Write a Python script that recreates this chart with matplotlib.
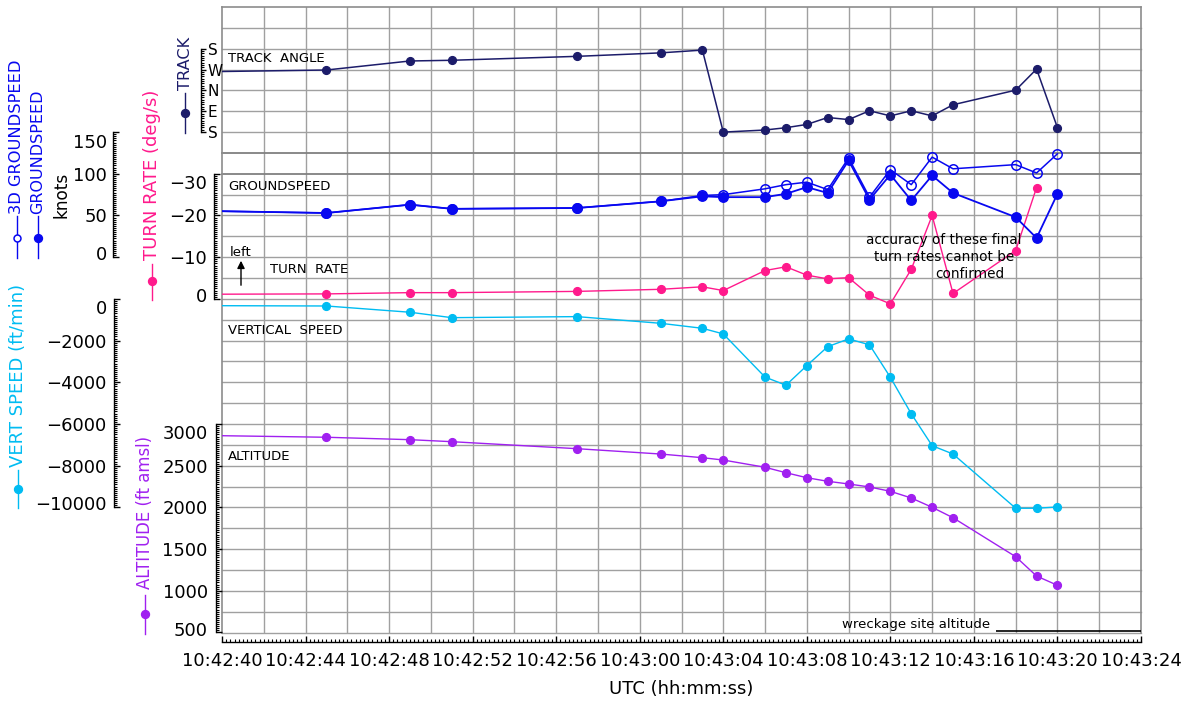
import matplotlib
matplotlib.use("Agg")
import matplotlib.pyplot as plt
from matplotlib.lines import Line2D
from matplotlib.patches import FancyArrowPatch
from matplotlib.ticker import FixedLocator
from matplotlib.transforms import ScaledTranslation
import numpy as np

W, H, DPI = 1189, 702, 100

# ---------------------------------------------------------------- data
start_utc = "10:42:40"
utc = ["10:42:38", "10:42:45", "10:42:49", "10:42:51", "10:42:57", "10:43:01",
       "10:43:03", "10:43:04", "10:43:06", "10:43:07", "10:43:08", "10:43:09",
       "10:43:10", "10:43:11", "10:43:12", "10:43:13", "10:43:14", "10:43:15",
       "10:43:18", "10:43:19", "10:43:20"]

track_deg = [281, 272, 233, 230, 213, 198, 186, 180, 171, 161, 147, 117,
             126, 88, 110, 88, 110, 62, 359, 268, 161]
groundspeed_kt = [56, 53, 63, 58, 59, 67, 73, 72, 72, 76, 84, 77,
                  116, 69, 99, 68, 98, 77, 48, 23, 76]
groundspeed_3d_kt = [56, 53, 63, 58, 59, 67, 74, 75, 82, 87, 90, 81,
                     119, 72, 105, 87, 120, 106, 111, 101, 124]
turn_rate_dps = [-1.1, -1.2, -1.5, -1.5, -1.8, -2.3, -2.9, -2.0, -6.8, -7.7,
                 -5.7, -4.8, -5.1, -0.9, 1.2, -7.1, -20.0, -1.3, -11.6, -26.7]
vert_speed_fpm = [-320, -340, -640, -900, -850, -1170, -1410, -1680, -3750,
                  -4140, -3200, -2290, -1920, -2200, -3760, -5510, -7040,
                  -7440, -10040, -10040, -9980]
altitude_ft = [2867, 2841, 2812, 2788, 2704, 2640, 2596, 2568, 2481, 2416,
               2356, 2313, 2281, 2245, 2193, 2113, 2001, 1876, 1409, 1177, 1066]
wreckage_alt_ft = 520

time_tick_labels = ["10:42:40", "10:42:44", "10:42:48", "10:42:52", "10:42:56",
                    "10:43:00", "10:43:04", "10:43:08", "10:43:12", "10:43:16",
                    "10:43:20", "10:43:24"]

compass_ticks = [-180, -90, 0, 90, 180]
compass_labels = ["S", "W", "N", "E", "S"]
knots_ticks = [0, 50, 100, 150]
turn_ticks = [-30, -20, -10, 0]
vs_ticks = [-10000, -8000, -6000, -4000, -2000, 0]
alt_ticks = [500, 1000, 1500, 2000, 2500, 3000]

# ---------------------------------------------------------------- helpers
def secs(hms):
    h, m, s = (int(v) for v in hms.split(":"))
    return h * 3600 + m * 60 + s

t0 = secs(start_utc)
t = np.array([secs(u) - t0 for u in utc], dtype=float)
time_ticks = np.array([secs(u) - t0 for u in time_tick_labels], dtype=float)

def unwrap_heading(h):
    # headings past south are shown on the upper half of the compass scale
    h = np.asarray(h, dtype=float)
    return np.where(h > 180, h - 360, h)

def fx(px):
    return px / W

def fy(py):
    return 1 - py / H

NAVY = "#1c1c6a"
BLUE = "#0808f0"
PINK = "#ff1a8c"
CYAN = "#00bcf2"
PURPLE = "#a020f0"
GRID = "#a0a0a0"

plt.rcParams["font.family"] = ["DejaVu Sans"]
fig = plt.figure(figsize=(W / DPI, H / DPI), dpi=DPI, facecolor="white")

TOP, BOT, LEFT, RIGHT = 7.0, 632.5, 222.0, 1141.0
ROWS = 30
rect = [fx(LEFT), fy(BOT), (RIGHT - LEFT) / W, (BOT - TOP) / H]
XMAX = 44

# ---------------------------------------------------------------- grid + time axis
ax = fig.add_axes(rect, zorder=0)
ax.set_xlim(0, XMAX)
ax.set_ylim(ROWS, 0)
for x in np.arange(2, XMAX, 2):
    ax.axvline(x, color=GRID, lw=1.0, zorder=0)
for r in range(1, ROWS + 1):
    dark = r in (7, 8)
    ax.axhline(r, color="#808080" if dark else GRID, lw=1.3 if dark else 1.0,
               zorder=0, clip_on=False)
for side in ("top", "left", "right"):
    ax.spines[side].set_color("#8c8c8c")
    ax.spines[side].set_linewidth(1.2)
ax.spines["bottom"].set_position(("outward", 6.5))
ax.spines["bottom"].set_color("black")
ax.spines["bottom"].set_linewidth(1.0)
ax.set_yticks([])
ax.xaxis.set_major_locator(FixedLocator(time_ticks))
ax.set_xticklabels(time_tick_labels)
ax.xaxis.set_minor_locator(FixedLocator(np.arange(0, XMAX + 0.01, 0.2)))
ax.tick_params(axis="x", which="major", direction="in", length=4.5, width=1.0,
               pad=7.5, labelsize=13)
ax.tick_params(axis="x", which="minor", direction="in", length=2.2, width=0.8)
fig.text(fx(681), fy(689), "UTC (hh:mm:ss)", ha="center", va="center", fontsize=13)


def overlay(ylim, z):
    a = fig.add_axes(rect, zorder=z)
    a.set_xlim(0, XMAX)
    a.set_ylim(*ylim)
    a.patch.set_visible(False)
    for s in a.spines.values():
        s.set_visible(False)
    a.xaxis.set_visible(False)
    return a


def left_scale(a, spine_px, bounds, ticks, minor, pad):
    sp = a.spines["left"]
    sp.set_visible(True)
    sp.set_position(("axes", (spine_px - LEFT) / (RIGHT - LEFT)))
    sp.set_bounds(*bounds)
    sp.set_linewidth(1.0)
    a.yaxis.set_major_locator(FixedLocator(ticks))
    a.yaxis.set_minor_locator(FixedLocator(minor))
    a.tick_params(axis="y", which="major", direction="in", length=4, width=1.0,
                  pad=pad, labelsize=13)
    a.tick_params(axis="y", which="minor", direction="in", length=2.2, width=0.8)


def nudge_end_labels(a, ticks, top_value, bottom_value, down_px=8.5, up_px=4.0):
    a.yaxis.set_major_locator(FixedLocator(ticks))
    for tick, val in zip(a.yaxis.get_major_ticks(len(ticks)), ticks):
        if val == top_value:
            dy = -down_px
        elif val == bottom_value:
            dy = up_px
        else:
            continue
        tick.label1.set_transform(tick.label1.get_transform() +
                                  ScaledTranslation(0, dy / DPI, fig.dpi_scale_trans))


def limits(v_at_row, step_per_row, r1):
    # value at grid row r1 and change per row going down -> (bottom, top) limits
    return (v_at_row + (ROWS - r1) * step_per_row, v_at_row - r1 * step_per_row)

# altitude: 500 ft at row 30, 250 ft per row
ax_alt = overlay(limits(500, -250, 30), 1)
left_scale(ax_alt, 216, (500, 3000), alt_ticks, np.arange(500, 3001, 25), 6.0)
nudge_end_labels(ax_alt, alt_ticks, 3000, 500)
ax_alt.plot(t, altitude_ft, color=PURPLE, lw=1.0, marker="o", ms=5.6)
ax_alt.hlines(wreckage_alt_ft, 37.05, XMAX, color="black", lw=1.2, clip_on=False)
ax_alt.text(36.8, wreckage_alt_ft, "wreckage site altitude", ha="right", va="bottom",
            fontsize=9.5)

# vertical speed: 0 at row 14, 1000 fpm per row
ax_vs = overlay(limits(0, -1000, 14), 2)
left_scale(ax_vs, 114, (-10000, 0), vs_ticks, np.arange(-10000, 1, 100), 5.2)
nudge_end_labels(ax_vs, vs_ticks, 0, -10000)
ax_vs.plot(t, vert_speed_fpm, color=CYAN, lw=1.0, marker="o", ms=5.6)

# turn rate: 0 at row 14, 5 deg/s per row, left turns upward
ax_tr = overlay(limits(0, 5, 14), 3)
left_scale(ax_tr, 214, (-30, 0), turn_ticks, np.arange(-30, 0.01, 0.5), 5.2)
nudge_end_labels(ax_tr, turn_ticks, -30, 0)
ax_tr.plot(t[:len(turn_rate_dps)], turn_rate_dps, color=PINK, lw=1.0, marker="o", ms=5.6)

# groundspeed: 0 kt at row 12, 25 kt per row
ax_gs = overlay(limits(0, -25, 12), 4)
left_scale(ax_gs, 113.3, (0, 150), knots_ticks, np.arange(0, 150.01, 2.5), 4.3)
nudge_end_labels(ax_gs, knots_ticks, 150, 0)
ax_gs.plot(t, groundspeed_3d_kt, color=BLUE, lw=1.1, marker="o", ms=6.8,
           mfc="none", mec=BLUE, mew=1.1)
ax_gs.plot(t, groundspeed_kt, color=BLUE, lw=1.3, marker="o", ms=6.8)

# track: south at row 6, 90 deg per row, counter-clockwise upward
ax_tk = overlay(limits(180, 90, 6), 5)
sp = ax_tk.spines["right"]
sp.set_visible(True)
sp.set_position(("axes", (201 - LEFT) / (RIGHT - LEFT)))
sp.set_bounds(-180, 180)
sp.set_linewidth(1.0)
ax_tk.yaxis.set_ticks_position("right")
ax_tk.yaxis.set_major_locator(FixedLocator(compass_ticks))
ax_tk.set_yticklabels(compass_labels)
ax_tk.yaxis.set_minor_locator(FixedLocator(np.arange(-180, 181, 10)))
ax_tk.tick_params(axis="y", which="major", direction="out", length=3.5, width=1.0,
                  pad=1.5, labelsize=11)
ax_tk.tick_params(axis="y", which="minor", direction="out", length=1.8, width=0.8)
ax_tk.plot(t, unwrap_heading(track_deg), color=NAVY, lw=1.1, marker="o", ms=5.6)

# ---------------------------------------------------------------- panel captions
cap = dict(fontsize=9.5, ha="left", va="center")
fig.text(fx(228), fy(59), "TRACK  ANGLE", **cap)
fig.text(fx(228), fy(186), "GROUNDSPEED", **cap)
fig.text(fx(270), fy(269), "TURN  RATE", **cap)
fig.text(fx(230), fy(252), "left", **cap)
fig.text(fx(228), fy(331), "VERTICAL  SPEED", **cap)
fig.text(fx(228), fy(457), "ALTITUDE", **cap)
fig.add_artist(FancyArrowPatch(
    (fx(241), fy(288)), (fx(241), fy(258)), transform=fig.transFigure,
    arrowstyle="-|>", mutation_scale=11, color="black", lw=1.0))

note = dict(fontsize=9.8, ha="center", va="center")
fig.text(fx(944), fy(240), "accuracy of these final", **note)
fig.text(fx(944), fy(257), "turn rates cannot be", **note)
fig.text(fx(970), fy(274), "confirmed", **note)

# ---------------------------------------------------------------- axis titles with key symbols
def key(x, y0, y1, ym, color, hollow=False, ms=5.6):
    fig.add_artist(Line2D([fx(x), fx(x)], [fy(y0), fy(y1)], transform=fig.transFigure,
                          color=color, lw=1.0))
    fig.add_artist(Line2D([fx(x)], [fy(ym)], transform=fig.transFigure, marker="o",
                          ms=ms, color=color, mfc="white" if hollow else color,
                          mew=1.1, lw=0))

def title(x, y, s, color, size):
    fig.text(fx(x), fy(y), s, color=color, rotation=90, ha="center", va="center",
             fontsize=size)

title(185, 63, "TRACK", NAVY, 11.6)
key(185, 93, 133, 113, NAVY)
title(152, 175, "TURN RATE (deg/s)", PINK, 13)
key(152, 264, 300, 281, PINK)
title(17, 137, "3D GROUNDSPEED", BLUE, 11.7)
key(17, 216, 258, 238, BLUE, hollow=True, ms=5.0)
title(38, 152, "GROUNDSPEED", BLUE, 11.5)
key(38, 216, 258, 238, BLUE)
title(62, 195, "knots", "black", 12.2)
title(18, 375, "VERT SPEED (ft/min)", CYAN, 13)
key(18, 470, 508, 489, CYAN)
title(145, 512, "ALTITUDE (ft amsl)", PURPLE, 11.9)
key(145, 595, 634, 614, PURPLE)

fig.savefig("out.png", dpi=DPI, facecolor="white")
